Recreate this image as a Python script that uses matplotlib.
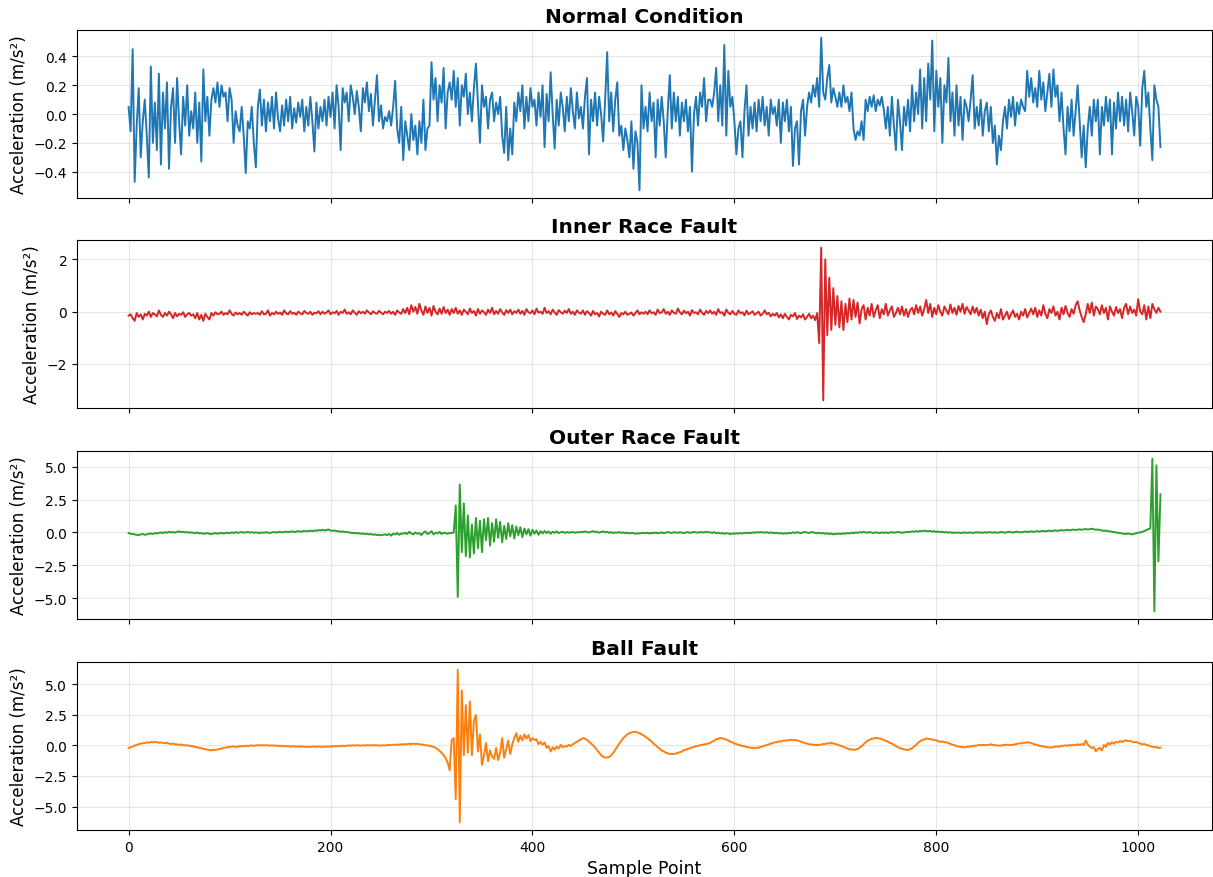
import matplotlib
matplotlib.use('Agg')
from matplotlib import pyplot as plt
import numpy as np

titles = ['Normal Condition', 'Inner Race Fault', 'Outer Race Fault', 'Ball Fault']
colors = ['tab:blue', 'tab:red', 'tab:green', 'tab:orange']

## signals, every 2nd sample point, in 0.01 m/s^2
normal = [
    5, -12, 45, -47, -8, 18, -30, -5, 10, -15, -44, 33, -20, 8, -25, 28, -35, 15, -10, 22, -38, 5, 18, -20, 25, -5, -28, 12, -8, 20, -15, 2,
    -10, 15, -20, 8, -33, 31, -5, 12, -15, 10, 18, 8, 22, 5, 20, 12, 15, -5, 18, 10, -20, 2, -8, -12, 5, -15, -41, -5, -10, 5, -20, -37,
    5, 17, -8, 10, -12, 8, -5, 12, -10, 15, -3, -12, 6, -8, 10, -5, 12, -10, 4, -6, 8, -2, 10, -12, 5, -8, 12, -5, -26, 8, -10, 5,
    -5, 10, -8, 12, -2, 15, -10, 20, 5, -25, 18, 8, 15, -5, 20, 12, 0, 16, 5, -12, 18, 8, 22, 2, 14, -8, 10, 27, -5, 6, -10, -2,
    -5, 2, -8, 5, 23, -10, -20, 5, -32, -5, -15, -25, 0, -18, -8, -28, -5, -20, 10, -25, -10, -8, 36, 10, 25, -5, 20, 8, 32, -10, 15, 22,
    10, 30, 5, 25, -8, 20, 12, 28, 0, 15, -5, 18, 35, 8, -20, 20, 5, 12, -10, 10, 15, -5, 8, 0, 12, -15, -27, 5, -32, -10, -28, 8,
    -5, 15, 2, 20, -10, 12, -5, 18, 5, 10, -8, 15, -2, 20, -23, 14, -5, 29, 0, -24, 10, -8, 15, 5, -12, 12, -5, 18, 2, -10, 15, -3,
    5, -10, 12, 25, -28, 10, -5, 15, -8, 12, 0, -19, 10, 43, -5, 15, -12, 10, 22, -15, -8, -25, -10, -18, -30, -5, -38, -12, -20, -53, 20, -10,
    5, -12, 15, -5, 8, -30, 10, -8, 12, -5, -30, 2, 27, -10, 15, -5, 12, -15, 8, -5, 10, -12, 5, -40, 0, 12, -8, 15, 5, 25, -5, 10,
    10, 5, 15, 32, -5, 20, -8, 48, -15, 30, 5, 12, -5, -28, -10, -5, -30, 2, 20, -15, 5, -10, 8, -12, 10, -5, 12, -8, 5, -15, 10, 0,
    5, -8, 10, -20, 8, -5, 10, -12, 5, -36, -10, -5, -35, 2, 10, -15, 5, 15, 8, 20, 12, 25, 5, 53, 15, 10, 25, 34, 8, 18, 12, 5,
    15, 5, 20, 8, 12, 2, 15, -10, -18, -12, -15, -5, -18, 10, 2, 12, 5, 13, 2, 10, 6, 12, 3, -10, 5, -15, 12, -8, -25, 10, -5, -25,
    5, -8, 10, -12, 20, -5, 15, 0, 31, -10, 25, -5, 35, 10, 51, -12, 30, 5, 25, -20, 20, 8, 39, -5, 15, -15, 20, -8, 12, -18, 10, 5,
    -5, 10, 27, -10, 5, -8, 10, -15, 2, 8, -12, 5, -20, -8, -35, -15, -25, -5, 5, -10, 10, -2, 12, -8, 8, 0, 10, 5, 2, 30, 12, 25,
    8, 18, 5, 30, 10, 22, 2, 15, 28, 5, 31, 12, 20, -5, 15, -10, -28, 5, -12, 10, -15, 2, 20, -5, -30, -8, -37, -10, 5, -15, 10, -5,
    10, -28, 5, -8, 12, -5, 10, -28, 8, -10, 15, -5, 12, -8, 10, -12, 15, 2, -15, 12, 5, -22, 18, 30, 5, 15, -10, -32, 20, 10, 5, -23,
]

inner = [
    -15, -10, -25, -35, -5, -20, -10, -30, -8, -15, 0, -20, -5, -10, -18, 5, -12, -20, -5, -15, 0, -10, -25, -5, -18, -8, -12, -2, -20, -10, -5, -15,
    -10, -25, -5, -30, -12, -35, -8, -20, -30, -5, -15, -2, -10, -8, 0, -12, -5, -10, 5, -8, -15, -3, -10, -5, -12, 0, -8, -15, -2, -10, -5, -8,
    -5, -12, 2, -10, -8, 5, -15, -5, -10, 0, -8, -3, -12, 5, -6, -10, 2, -8, -4, -12, 0, -6, -10, 3, -5, -8, 0, -12, -4, -6, 2, -10,
    0, -8, -3, 5, -10, -2, -6, 3, -12, 0, -5, 8, -8, -2, -10, 5, -4, -12, 2, -6, 0, -8, 5, -3, -10, 2, -5, -8, 3, -4, -10, 0,
    -5, 3, -8, 0, -12, 5, -3, -8, 10, -5, 15, -10, 25, 0, 18, -8, 30, 5, -12, 20, -5, 15, -15, 22, 0, -10, 12, -8, 18, -5, 8, -12,
    10, -5, 15, -8, 5, -12, 8, 0, -10, 12, -5, 3, -15, 10, -8, 5, -2, -12, 8, -5, 15, -10, 3, -8, 10, -3, -12, 6, -5, 8, -10, 2,
    -5, 8, -8, 3, -12, 10, -2, -6, 5, -10, 12, -4, 0, -8, 15, -5, 2, -10, 8, -3, -12, 6, -2, -8, 4, -5, 10, -8, 0, -12, 5, -3,
    -8, 5, -12, 2, -5, -15, 3, -10, -5, -18, 0, -8, -12, 5, -10, -3, -15, 2, -8, -20, -5, -10, 0, -12, -8, -3, -15, -5, 5, -10, -2, -8,
    0, -10, 5, -6, -2, -12, 8, -5, -3, 10, -8, 0, -12, 5, -4, -8, 12, -2, -10, 4, -6, 0, -15, 6, -5, -2, -10, 8, -4, -12, 3, -6,
    5, -8, 0, -12, 10, -5, -2, -15, 8, -4, -10, 3, -8, -12, 5, -6, -2, -14, 4, -10, -5, 2, -12, -6, 0, -15, -8, 5, -10, -4, -18, -8,
    -15, -5, -22, -10, -25, -8, -20, -30, -12, -18, -5, -28, -15, -22, -10, -30, -20, -8, -25, -15, -32, -5, -120, 245, -339, 200, -90, 130, -70, 90, -50, 60,
    -60, 40, -70, 30, -40, 50, -30, 45, -20, 35, -45, 10, 25, -30, 15, -15, 30, -20, 5, 25, -25, 10, -10, 30, -15, 5, 20, -20, -5, 15, -10, 20,
    -15, 10, -20, 5, 15, -10, 25, -5, 20, -15, 10, 45, -5, 30, -20, 15, -10, 25, 0, -15, 20, 5, -10, 28, -5, 15, -12, 22, 0, 30, -8, 18,
    5, -10, 20, -5, 15, -15, 8, -25, 0, -48, -10, 5, -20, -35, -5, -25, 10, -30, -15, 0, -28, -10, 5, -20, -8, -30, 0, -15, 10, -22, -5, 12,
    -10, 15, -20, 5, -15, 25, -8, -25, 10, -5, 20, -15, 0, -30, 15, -10, 22, -5, -20, 10, -8, 25, 40, 5, -20, -40, -10, 30, -5, 35, -15, 20,
    10, -10, 25, -5, 15, -30, 20, 0, -15, 18, -5, 10, -25, 15, 30, -10, 20, -5, 8, -15, 48, 0, -10, 25, -30, 20, -25, 30, 10, -5, 15, 0,
]

outer = [
    -5, -10, -12, -15, -18, -20, -15, -12, -18, -15, -10, -8, -12, -5, -8, -3, 0, -5, 2, -2, 5, 0, 3, -2, 5, 8, 2, 5, 0, 3, -2, 0,
    -3, -5, 0, -8, -5, -10, -8, -5, -10, -12, -8, -5, -10, -6, -3, -8, -5, -2, -6, 0, -4, 2, -3, 0, 3, -2, 0, 4, -1, 2, -3, 0,
    -2, -5, 0, -3, 2, -2, -4, 0, 3, -1, 2, 5, 0, 3, 6, 2, 5, 8, 3, 6, 10, 5, 8, 12, 8, 10, 14, 10, 15, 12, 18, 15,
    20, 15, 18, 22, 15, 12, 15, 10, 8, 5, 8, 2, 5, 0, -2, -5, -3, -8, -5, -10, -8, -12, -10, -15, -12, -18, -15, -20, -18, -22, -18, -15,
    -20, -12, -25, -10, -15, -5, -18, -8, -10, -3, -12, 5, -8, -15, 0, -10, -5, -20, -2, 8, -12, -5, 10, -15, -3, -8, 5, -12, -2, -5, -10, -3,
    -5, 0, 205, -490, 364, -150, 220, -180, 130, -190, 60, -160, 110, -120, 90, -150, 100, -60, 110, -100, 70, -70, 100, -40, 80, -75, 50, -50, 70, -30, 55, -45,
    45, -20, 40, -35, 30, -15, 25, -25, 20, -10, 15, -18, 10, -8, 12, -5, 8, -10, 5, -3, 8, -6, 2, 5, -4, 3, -2, 0, 4, -3, 2, 0,
    5, 2, 8, 3, 0, 5, 10, 2, 6, -2, 4, 8, 0, 5, -3, 2, -5, 0, -2, 3, -4, 0, -6, -2, -8, -4, -5, -10, -6, -8, -5, -3,
    -6, -2, -8, -4, -5, -1, -7, -3, 0, -5, -2, 3, -1, -4, 2, 0, -3, 1, -2, -5, 0, 2, -3, -1, 4, 0, -2, 3, 1, -1, 5, 2,
    0, -3, 2, -5, -2, -8, -4, -10, -6, -8, -12, -8, -10, -6, -9, -5, -8, -3, -6, -2, -5, 0, -3, 2, -1, 3, 0, -2, 2, -4, 0, -3,
    -5, -2, -8, -4, -10, -6, -8, -3, -6, 0, -4, 2, -2, -5, 0, 3, -1, -4, 2, 0, -3, -6, -2, -8, -5, -10, -6, -12, -8, -15, -10, -12,
    -8, -12, -6, -10, -4, -8, -2, -6, 0, -3, 2, -1, 4, 0, -2, 3, -1, -4, 1, -2, -5, -1, -3, 0, -4, -1, 2, -2, 0, 3, 1, -2,
    0, 2, 5, 3, 8, 5, 10, 6, 12, 8, 14, 10, 8, 12, 6, 9, 4, 7, 2, 5, 0, 3, -2, 1, -4, -1, -3, 0, -5, -2, 0, -3,
    -2, 0, -4, -1, 2, -2, 0, -3, 1, -2, 3, 0, -1, 2, -3, 0, 4, 1, -2, 2, 5, 2, -1, 3, 6, 2, 0, 4, 7, 3, 5, 8,
    4, 7, 10, 6, 9, 12, 8, 11, 14, 10, 13, 16, 12, 15, 18, 14, 17, 20, 16, 19, 22, 18, 21, 24, 20, 23, 26, 22, 25, 28, 24, 20,
    22, 18, 15, 12, 14, 10, 8, 5, 3, 0, -3, -5, -8, -10, -12, -8, -12, -15, -10, -6, -2, 0, 5, 10, 18, 25, 30, 560, -600, 510, -220, 290,
]

ball = [
    -20, -15, -10, 0, 5, 10, 15, 18, 20, 25, 22, 28, 25, 30, 26, 22, 25, 20, 18, 22, 15, 12, 15, 10, 8, 5, 8, 3, 0, 2, -3, -5,
    -8, -12, -15, -20, -22, -28, -30, -35, -38, -40, -35, -38, -32, -30, -25, -20, -18, -15, -12, -10, -8, -12, -10, -6, -8, -5, -3, -6, -2, 0, -3, 0,
    2, 0, 3, -1, 2, 0, -2, 1, -3, 0, -5, -2, -6, -3, -8, -5, -10, -6, -8, -10, -7, -12, -8, -10, -12, -9, -13, -10, -8, -12, -9, -10,
    -12, -10, -8, -11, -7, -9, -5, -8, -4, -6, -2, -5, -3, 0, -2, 1, -1, 2, 0, -2, 1, -1, 3, 0, 2, -1, 3, 1, -2, 0, 2, -1,
    3, 5, 2, 6, 4, 8, 5, 10, 7, 12, 9, 14, 11, 15, 12, 14, 10, 8, 5, 2, 0, -3, -8, -12, -20, -30, -45, -60, -80, -105, -140, -205,
    45, 60, -440, 620, -630, 450, -80, 330, -60, 360, -80, 200, 250, -50, 90, -160, -80, 20, -130, -40, -90, -110, -20, -120, -60, 60, -100, -30, 40, -70, 10, 60,
    100, 30, 80, 40, 90, 55, 85, 35, 60, 45, 50, 10, 30, 5, 25, -20, -5, -50, -15, -35, -10, -25, 5, -15, -5, -10, 5, -5, 10, 20, 30, 40,
    50, 60, 55, 47, 30, 16, 0, -18, -40, -58, -80, -93, -100, -98, -95, -80, -62, -35, -12, 15, 38, 60, 76, 92, 100, 106, 110, 112, 106, 101, 90, 82,
    70, 60, 44, 32, 14, 2, -15, -26, -42, -48, -60, -64, -70, -68, -72, -66, -62, -54, -50, -38, -36, -26, -24, -16, -14, -6, -4, 2, 4, 10, 10, 16,
    20, 32, 38, 52, 54, 62, 56, 56, 46, 42, 30, 26, 16, 12, 4, 2, -6, -6, -14, -14, -20, -18, -24, -18, -20, -10, -10, -2, 4, 8, 16, 18,
    26, 26, 34, 32, 40, 38, 44, 42, 46, 42, 46, 40, 38, 30, 26, 18, 16, 8, 10, 4, 6, 2, 6, 6, 12, 12, 18, 16, 22, 16, 12, 6,
    2, -6, -10, -20, -24, -32, -32, -37, -34, -30, -18, -6, 10, 24, 40, 46, 56, 56, 62, 58, 58, 50, 46, 36, 32, 20, 16, 4, -6, -14, -24, -26,
    -34, -34, -38, -28, -24, -8, 4, 22, 34, 46, 48, 56, 54, 52, 48, 44, 42, 34, 30, 32, 26, 26, 20, 12, 6, 2, -6, -8, -14, -12, -17, -10,
    -12, -6, -6, -2, -2, 4, 2, 6, 2, 4, 4, 10, 4, 4, -2, 0, -2, 4, 4, 6, 2, 4, 4, 10, 12, 18, 16, 22, 22, 26, 24, 18,
    14, 6, 4, -4, -4, -10, -10, -16, -16, -18, -12, -10, -8, -12, -2, -4, 2, -4, 4, 0, 6, 2, 10, 2, 12, 4, 40, 8, -10, -22, -14, -48,
    -30, -20, -42, 4, -12, 20, 8, 26, 14, 30, 24, 36, 28, 38, 42, 34, 38, 30, 26, 28, 20, 16, 8, 12, 4, 0, -6, -10, -16, -12, -22, -18,
]

signals = [normal, inner, outer, ball]

fig = plt.figure(figsize=(12.13, 8.78), dpi=100)
bottoms = [0.7733, 0.5342, 0.2938, 0.0535]
axes = []
for i in range(4):
    ax = fig.add_axes([0.0635, bottoms[i], 0.9357, 0.1913],
                      sharex=axes[0] if axes else None)
    y = np.array(signals[i], dtype=float) / 100
    x = np.arange(len(y)) * 2
    ax.plot(x, y, color=colors[i], linewidth=1.4)
    ax.set_title(titles[i], fontsize=14.5, fontweight='bold')
    ax.set_ylabel('Acceleration (m/s²)', fontsize=12)
    ax.grid(True, alpha=0.3)
    ax.tick_params(labelsize=10)
    if i < 3:
        ax.tick_params(labelbottom=False)
    axes.append(ax)

axes[-1].set_xlabel('Sample Point', fontsize=12.5)
fig.savefig('out.png', dpi=100)
